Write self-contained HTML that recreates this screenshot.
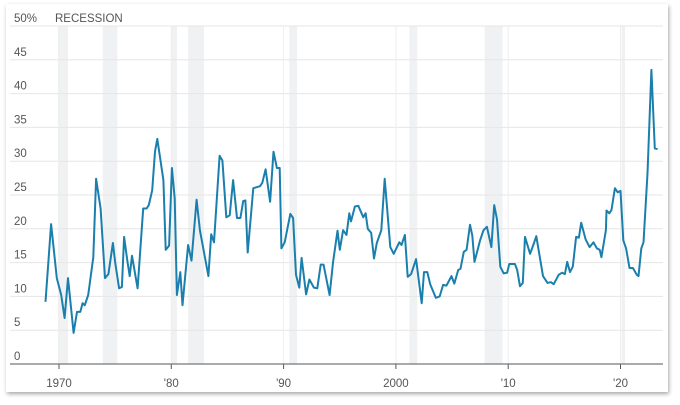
<!DOCTYPE html>
<html><head><meta charset="utf-8"><style>
html,body{margin:0;padding:0;background:#fff;}
#card{position:absolute;left:6px;top:4px;width:662px;height:388px;background:#fff;box-shadow:1px 2px 4px rgba(0,0,0,0.35);}
svg{position:absolute;left:0;top:0;}
text{font-family:"Liberation Sans",sans-serif;font-size:11.5px;fill:#555;}
</style></head><body>
<div id="card"></div>
<svg id="chart" width="680" height="405"></svg>
<script>
const years=[1968.8,1969.3,1969.8,1970.2,1970.5,1970.8,1971.3,1971.6,1971.9,1972.1,1972.3,1972.6,1973.05,1973.3,1973.7,1974.1,1974.4,1974.8,1975.0,1975.35,1975.6,1975.8,1976.1,1976.3,1976.5,1977.0,1977.5,1977.8,1978.0,1978.3,1978.55,1978.75,1979.3,1979.5,1979.8,1980.05,1980.3,1980.5,1980.8,1981.0,1981.5,1981.8,1982.25,1982.55,1983.3,1983.55,1983.8,1984.3,1984.55,1984.9,1985.2,1985.5,1985.85,1986.15,1986.4,1986.6,1986.8,1987.3,1987.9,1988.1,1988.4,1988.8,1989.1,1989.4,1989.65,1989.8,1990.1,1990.6,1990.85,1991.1,1991.4,1991.6,1992.0,1992.3,1992.7,1993.0,1993.3,1993.55,1994.1,1994.4,1994.8,1995.0,1995.3,1995.6,1995.85,1996.0,1996.35,1996.65,1997.1,1997.3,1997.5,1997.8,1998.05,1998.3,1998.7,1999.0,1999.5,1999.8,2000.3,2000.5,2000.8,2001.05,2001.35,2001.8,2002.3,2002.5,2002.8,2003.05,2003.55,2003.9,2004.2,2004.5,2004.95,2005.2,2005.55,2005.75,2006.05,2006.3,2006.6,2006.8,2007.0,2007.5,2007.8,2008.1,2008.5,2008.75,2009.0,2009.3,2009.6,2009.9,2010.1,2010.6,2010.8,2011.05,2011.3,2011.5,2011.95,2012.3,2012.5,2013.1,2013.5,2013.8,2014.05,2014.5,2014.8,2015.05,2015.25,2015.5,2015.75,2016.05,2016.3,2016.5,2016.9,2017.25,2017.6,2017.9,2018.15,2018.3,2018.7,2018.75,2019.0,2019.2,2019.5,2019.75,2020.0,2020.25,2020.5,2020.8,2021.1,2021.45,2021.6,2021.85,2022.05,2022.4,2022.75,2023.05,2023.3];
const values=[9.2,20.7,12.7,10.2,6.8,12.7,4.6,7.7,7.7,9.0,8.7,10.2,15.8,27.4,23,12.7,13.3,17.9,15,11.2,11.4,18.8,15.1,13,16,11.2,23,23,23.5,25.7,31.4,33.3,27.2,16.9,17.5,29,24.5,10.2,13.6,8.7,17.6,15.3,24.3,19.8,13.0,19.2,18,30.8,30.1,21.7,22,27.2,21.6,21.6,24.1,24.2,16.5,26,26.3,26.8,28.8,24,31.4,29,29,17.1,18,22.2,21.6,13.2,11.3,15.7,10.3,12.5,11.3,11.2,14.7,14.7,10.2,15,19.7,16.9,19.8,19.1,22.3,21.1,23.3,23.4,21.7,22.3,20,19.4,15.6,17.9,19.8,27.4,17.3,16.3,18,17.6,19.1,12.9,13.3,15.5,9.0,13.6,13.6,11.8,9.8,10,11.7,11.6,13,11.9,13.9,14.1,16.6,16.9,20.6,19,15.1,18.3,19.8,20.3,17.3,23.5,21.4,14.4,13.4,13.5,14.8,14.8,13.9,11.5,12.0,18.8,16.3,17.9,18.9,13.0,12,12.1,11.8,13.2,13.5,13.3,15.1,13.6,14.4,18.8,18.7,20.9,18.4,17.3,18.0,17.1,16.9,15.8,19.8,22.7,22.3,22.8,26,25.4,25.6,18.3,17.1,14.2,14.2,13.2,13,17.1,18.0,28.2,43.5,31.9,31.8];
const recStart=[1969.9,1973.9,1980.0,1981.5,1990.5,2001.2,2007.9,2020.1];
const recEnd=[1970.8,1975.2,1980.5,1982.9,1991.2,2001.9,2009.5,2020.4];
const yTicks=[0,5,10,15,20,25,30,35,40,45,50];
const yTickLabels=["0","5","10","15","20","25","30","35","40","45","50%"];
const xTicks=[1970,1980,1990,2000,2010,2020];
const xTickLabels=["1970","'80","'90","2000","'10","'20"];

const svg=document.getElementById('chart');
const NS='http://www.w3.org/2000/svg';
const xS=y=>59+(y-1970)*11.23;
const yS=v=>364-v*6.76;
const X0=10,X1=663;
function mk(t,a){const e=document.createElementNS(NS,t);for(const k in a)e.setAttribute(k,a[k]);svg.appendChild(e);return e;}

recStart.forEach((s,i)=>{
  const r=mk('rect',{x:xS(s),y:yS(50),width:xS(recEnd[i])-xS(s),height:yS(0)-yS(50),fill:'#f0f1f3'});
  
  
});
yTicks.forEach((v,i)=>{
  if(v>0){const g=mk('line',{x1:X0,x2:X1,y1:yS(v),y2:yS(v),stroke:'#e6e6e6','stroke-width':1});
  
  }
  const t=mk('text',{x:14,y:yS(v)-4});
  t.textContent=yTickLabels[i];
  
  
});
const lg=mk('text',{x:55,y:yS(50)-4});
lg.textContent='RECESSION';


xTicks.forEach((y,i)=>{
  const g=mk('line',{x1:xS(y),x2:xS(y),y1:yS(50),y2:yS(0),stroke:'#eeeeee','stroke-width':1});
  
  
  const tk=mk('line',{x1:xS(y),x2:xS(y),y1:yS(0),y2:yS(0)+5,stroke:'#555','stroke-width':1});
  
  
  const t=mk('text',{x:xS(y),y:387,'text-anchor':'middle'});
  t.textContent=xTickLabels[i];
  
  
});
const ax=mk('line',{x1:X0,x2:X1,y1:yS(0),y2:yS(0),stroke:'#777','stroke-width':1.2});


const d=years.map((y,i)=>(i?'L':'M')+xS(y).toFixed(1)+','+yS(values[i]).toFixed(1)).join('');
const p=mk('path',{d:d,fill:'none',stroke:'#1b7fad','stroke-width':2,'stroke-linejoin':'round'});


</script>
</body></html>
